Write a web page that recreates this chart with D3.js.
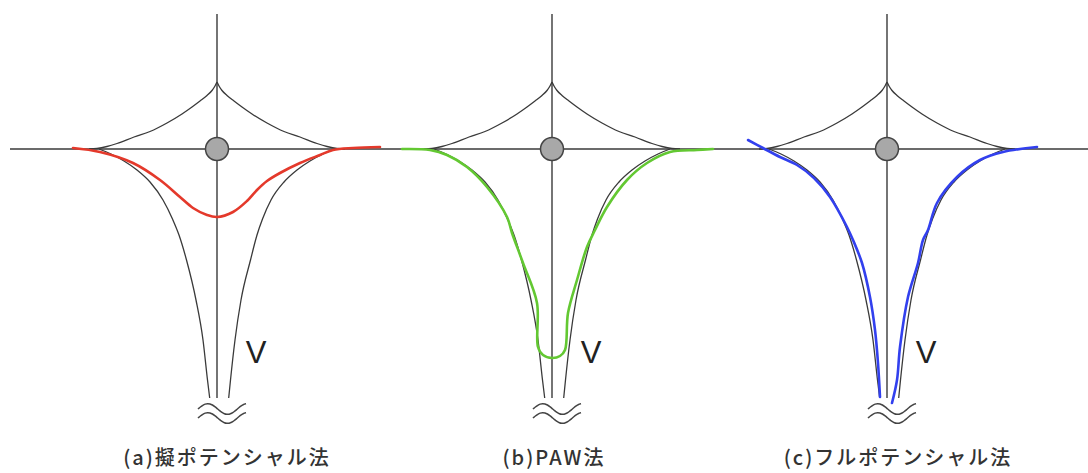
<!DOCTYPE html>
<html>
<head>
<meta charset="utf-8">
<script src="https://cdn.jsdelivr.net/npm/d3@7"></script>
<style>
  html, body { margin: 0; padding: 0; background: #fff; }
  svg { display: block; }
</style>
</head>
<body>
<svg id="chart" width="1088" height="473"></svg>
<script>
// Panel captions
const captions = ["(a)擬ポテンシャル法", "(b)PAW法", "(c)フルポテンシャル法"];

// Bare nuclear potential, upper cusp (|r| -> V)
const upperR = [0, 0.02, 0.05, 0.10, 0.17, 0.25, 0.35, 0.50, 0.67, 0.83, 1.00, 1.10, 1.20, 1.28];
const upperV = [0.67, 0.63, 0.585, 0.535, 0.48, 0.42, 0.35, 0.26, 0.175, 0.12, 0.055, 0.025, 0.005, 0];

// Bare nuclear potential, lower well (left and right branches)
const lowerV      = [0, -0.05, -0.12, -0.21, -0.33, -0.51, -0.70, -0.86, -1.11, -1.51, -1.91, -2.31, -2.49];
const lowerRLeft  = [-1.18, -1.06, -0.93, -0.80, -0.67, -0.54, -0.445, -0.38, -0.305, -0.21, -0.14, -0.095, -0.073];
const lowerRRight = [1.18, 1.06, 0.93, 0.80, 0.67, 0.54, 0.455, 0.40, 0.335, 0.24, 0.18, 0.135, 0.117];

// (a) pseudopotential
const pseudoR = [-1.44, -1.17, -0.84, -0.57, -0.37, -0.24, -0.10, 0, 0.16, 0.30, 0.40, 0.50, 0.63, 0.83, 1.03, 1.16, 1.36, 1.63];
const pseudoV = [0.01, -0.03, -0.14, -0.31, -0.48, -0.59, -0.66, -0.68, -0.63, -0.52, -0.41, -0.32, -0.24, -0.14, -0.06, -0.01, 0.01, 0.02];

// (b) PAW potential
const pawR = [-1.50, -1.22, -1.05, -0.85, -0.65, -0.45, -0.40, -0.29, -0.15, -0.14, -0.09, 0, 0.08, 0.13, 0.16, 0.25, 0.35, 0.43, 0.55, 0.75, 0.95, 1.18, 1.45, 1.61];
const pawV = [0, -0.01, -0.06, -0.18, -0.38, -0.68, -0.84, -1.14, -1.54, -1.98, -2.06, -2.09, -2.07, -2.01, -1.64, -1.31, -0.98, -0.81, -0.58, -0.31, -0.14, -0.03, -0.01, 0];

// (c) full potential, left and right branches
const fullLeftR  = [-1.39, -1.24, -1.07, -0.90, -0.73, -0.57, -0.40, -0.34, -0.25, -0.17, -0.12, -0.09, -0.07];
const fullLeftV  = [0.09, 0.01, -0.08, -0.16, -0.29, -0.48, -0.78, -0.91, -1.14, -1.48, -1.81, -2.14, -2.48];
const fullRightR = [0.05, 0.10, 0.13, 0.21, 0.31, 0.36, 0.41, 0.50, 0.70, 0.93, 1.16, 1.50];
const fullRightV = [-2.54, -2.31, -1.98, -1.48, -1.14, -0.91, -0.81, -0.54, -0.28, -0.11, -0.03, 0.02];

const zip = (xs, ys) => xs.map((x, i) => [x, ys[i]]);

// Coloured potential per panel (each may have several branches)
const panelCurves = [
  { color: "#e4392b", branches: [zip(pseudoR, pseudoV)] },
  { color: "#63c832", branches: [zip(pawR, pawV)] },
  { color: "#3240ee", branches: [zip(fullLeftR, fullLeftV), zip(fullRightR, fullRightV)] }
];

// ---- layout ----
const layout = {
  centers: [217, 552, 887],
  captionShift: [10, 2, 11],
  top: 14,
  bottom: 398,
  unit: 100,
  captionY: 465
};

const svg = d3.select("#chart");
const ink = "#3a3a3a";

const y = d3.scaleLinear().domain([-2.49, 1.35]).range([layout.bottom, layout.top]);

// Shared horizontal axis across all panels
svg.append("line")
  .attr("x1", 10).attr("x2", 1088)
  .attr("y1", y(0)).attr("y2", y(0))
  .attr("stroke", ink).attr("stroke-width", 1.6);

layout.centers.forEach((cx, i) => {
  const x = d3.scaleLinear().domain([-1, 1]).range([cx - layout.unit, cx + layout.unit]);
  const g = svg.append("g");

  const smooth = d3.line().x(d => x(d[0])).y(d => y(d[1])).curve(d3.curveMonotoneX);
  const free = d3.line().x(d => x(d[0])).y(d => y(d[1])).curve(d3.curveCatmullRom.alpha(0.5));

  // vertical axis through the nucleus
  g.append("line")
    .attr("x1", x(0)).attr("x2", x(0))
    .attr("y1", y(1.35)).attr("y2", y(-2.49))
    .attr("stroke", ink).attr("stroke-width", 1.4);

  // bare potential: upper cusp branches
  const upRight = zip(upperR, upperV);
  const upLeft = upRight.map(d => [-d[0], d[1]]).reverse();
  [upLeft, upRight].forEach(b => {
    g.append("path").attr("d", smooth(b))
      .attr("fill", "none").attr("stroke", ink).attr("stroke-width", 1.3);
  });

  // bare potential: lower well branches
  const lowLeft = zip(lowerRLeft, lowerV);
  const lowRight = zip(lowerRRight, lowerV).reverse();
  [lowLeft, lowRight].forEach(b => {
    g.append("path").attr("d", smooth(b))
      .attr("fill", "none").attr("stroke", ink).attr("stroke-width", 1.3);
  });

  // coloured effective potential
  panelCurves[i].branches.forEach(b => {
    g.append("path").attr("d", free(b))
      .attr("fill", "none")
      .attr("stroke", panelCurves[i].color)
      .attr("stroke-width", 2.6)
      .attr("stroke-linecap", "round")
      .attr("stroke-linejoin", "round");
  });

  // nucleus
  g.append("circle")
    .attr("cx", x(0)).attr("cy", y(0)).attr("r", 11.5)
    .attr("fill", "#a8a8a8").attr("stroke", "#444").attr("stroke-width", 1.5);

  // V label
  g.append("text")
    .attr("x", x(0.39)).attr("y", y(-2.14))
    .attr("text-anchor", "middle")
    .attr("font-family", "Liberation Sans, Arial, sans-serif")
    .attr("font-size", 31)
    .attr("fill", "#222")
    .text("V");

  // axis break mark (two wavy strokes)
  const bx = x(0.05), bw = 48;
  [409, 418].forEach(by => {
    const pts = d3.range(0, 1.0001, 0.05).map(t => [bx - bw / 2 + t * bw, by - 5.5 * Math.sin(2 * Math.PI * t / 0.82)]);
    g.append("path")
      .attr("d", d3.line().curve(d3.curveBasis)(pts))
      .attr("fill", "none").attr("stroke", "#444").attr("stroke-width", 1.5);
  });

  // caption
  g.append("text")
    .attr("x", cx + layout.captionShift[i]).attr("y", layout.captionY)
    .attr("text-anchor", "middle")
    .attr("font-family", "Noto Sans CJK JP, sans-serif")
    .attr("font-weight", 500)
    .attr("font-size", 20)
    .attr("letter-spacing", 2)
    .attr("fill", "#333")
    .text(captions[i]);
});
</script>
</body>
</html>
